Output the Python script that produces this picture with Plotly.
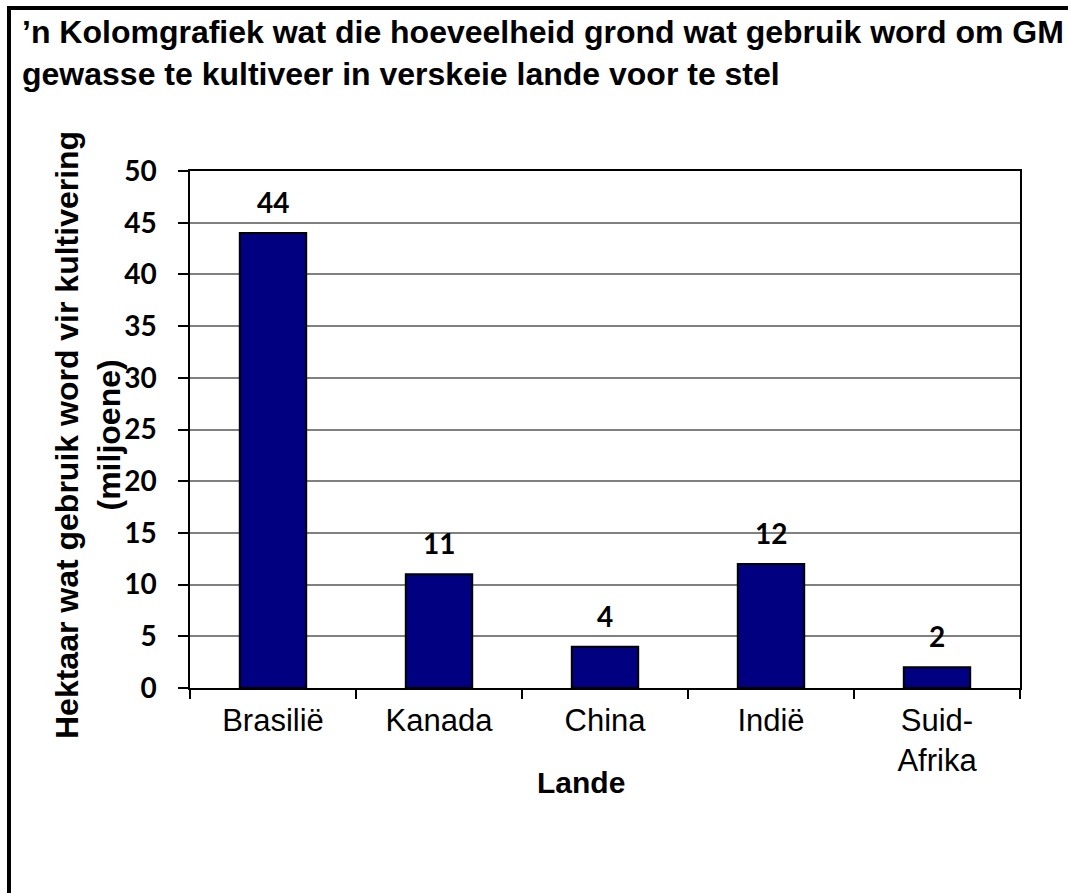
import plotly.graph_objects as go

countries = ["Brasilië", "Kanada", "China", "Indië", "Suid-<br>Afrika"]
hectares = [44, 11, 4, 12, 2]
value_labels = ["44", "11", "4", "12", "2"]
y_ticks = [0, 5, 10, 15, 20, 25, 30, 35, 40, 45, 50]

title_text = "’n Kolomgrafiek wat die hoeveelheid grond wat gebruik word om GM<br>gewasse te kultiveer in verskeie lande voor te stel"
y_title = "Hektaar wat gebruik word vir kultivering<br>(miljoene)"
x_title = "Lande"

W, H = 1068, 893
L, R, T, B = 190, 1020, 171, 688

def px(x):
    return (x - L) / (R - L)

def py(y):
    return (B - y) / (B - T)

fig = go.Figure()
fig.add_trace(go.Bar(
    x=countries, y=hectares,
    marker=dict(color="#000080", line=dict(color="black", width=2)),
    hoverinfo="skip",
))

for c, v, t in zip(countries, hectares, value_labels):
    fig.add_annotation(x=c, y=v, text="<b>" + t + "</b>", showarrow=False, yanchor="bottom",
                       yshift=12, font=dict(family="Lato", size=28, color="black"))

fig.update_layout(
    width=W, height=H,
    margin=dict(l=L, r=W - R, t=T, b=H - B, pad=0),
    paper_bgcolor="white", plot_bgcolor="white",
    showlegend=False, bargap=0.6,
    xaxis=dict(
        type="category", showline=True, linecolor="black", linewidth=1.5,
        mirror=True, ticks="outside", tickson="boundaries", ticklen=9,
        tickcolor="black", tickwidth=1.5, ticklabelstandoff=4,
        tickfont=dict(family="Liberation Sans", size=31, color="black"),
        showgrid=False,
    ),
    yaxis=dict(
        range=[0, 50], tickvals=y_ticks, showline=True, linecolor="black",
        linewidth=1.5, mirror=True, ticks="outside", ticklen=10,
        tickcolor="black", tickwidth=1.5, ticklabelstandoff=16,
        tickfont=dict(family="Lato", size=28, color="black", weight="bold"),
        showgrid=True, gridcolor="#808080", gridwidth=1.5, zeroline=False,
    ),
)

fig.add_annotation(xref="paper", yref="paper", x=px(20), y=py(12),
                   xanchor="left", yanchor="top", align="left", showarrow=False,
                   text="<b>" + title_text + "</b>",
                   font=dict(family="Liberation Sans", size=32, color="black"))
fig.add_annotation(xref="paper", yref="paper", x=px(88), y=py(435),
                   xanchor="center", yanchor="middle",
                   textangle=-90, showarrow=False, align="center",
                   text="<b>" + y_title + "</b>",
                   font=dict(family="Liberation Sans", size=32, color="black"))
fig.add_annotation(xref="paper", yref="paper", x=px(581), y=py(782),
                   xanchor="center", yanchor="middle",
                   showarrow=False, text="<b>" + x_title + "</b>",
                   font=dict(family="Liberation Sans", size=30, color="black"))

fig.add_shape(type="rect", xref="paper", yref="paper",
              x0=px(9), y0=py(8), x1=px(1090), y1=py(920),
              line=dict(color="black", width=4), layer="above")

fig.write_html("out.html")
